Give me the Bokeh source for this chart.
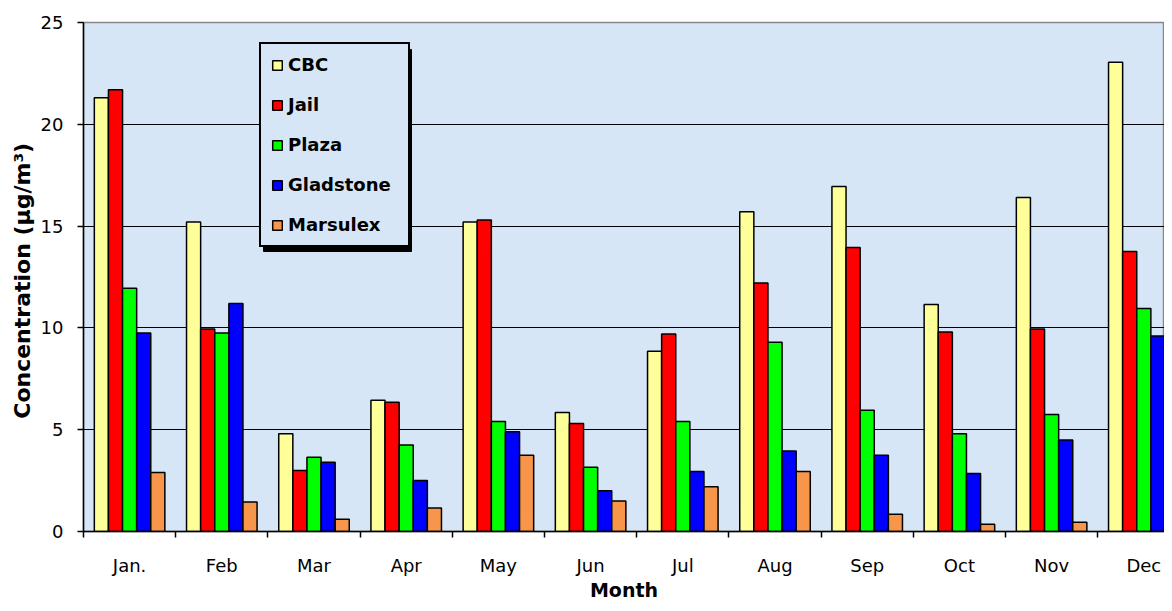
from bokeh.plotting import figure
from bokeh.models import Range1d, FixedTicker, Legend, LegendItem, ColumnDataSource
from bokeh.embed import file_html
from bokeh.resources import INLINE

months = ["Jan.", "Feb", "Mar", "Apr", "May", "Jun", "Jul", "Aug", "Sep", "Oct", "Nov", "Dec"]
series_names = ["CBC", "Jail", "Plaza", "Gladstone", "Marsulex"]
cbc = [21.3, 15.2, 4.8, 6.45, 15.2, 5.85, 8.85, 15.7, 16.95, 11.15, 16.4, 23.05]
jail = [21.7, 9.95, 3.0, 6.35, 15.3, 5.3, 9.7, 12.2, 13.95, 9.8, 9.95, 13.75]
plaza = [11.95, 9.75, 3.65, 4.25, 5.4, 3.15, 5.4, 9.3, 5.95, 4.8, 5.75, 10.95]
gladstone = [9.75, 11.2, 3.4, 2.5, 4.9, 2.0, 2.95, 3.95, 3.75, 2.85, 4.5, 9.6]
marsulex = [2.9, 1.45, 0.6, 1.15, 3.75, 1.5, 2.2, 2.95, 0.85, 0.35, 0.45, 1.0]
colors = ["#FFFF99", "#FF0000", "#00FF00", "#0000FF", "#F7964A"]
y_ticks = [0, 5, 10, 15, 20, 25]
x_title = "Month"
y_title = "Concentration  (µg/m³)"

W, H = 1164, 603
LEFT, TOP, BOTTOM = 83, 22, 70
frame_w = W - LEFT
px_per_cat = 92.2
x_end = frame_w / px_per_cat
frame_h = H - TOP - 72
px_per_unit = frame_h / 25.0

p = figure(width=W, height=H, output_backend="svg", toolbar_location=None,
           x_range=Range1d(0, x_end), y_range=Range1d(0, 25),
           min_border_left=LEFT, min_border_right=0, min_border_top=TOP,
           min_border_bottom=BOTTOM)
p.background_fill_color = "#d7e6f6"
p.border_fill_color = "white"
p.outline_line_color = "#888888"
p.outline_line_width = 1.5

# legend shadow (drawn under legend)
LEG_X, LEG_Y = 176, 284  # legend bottom-left, px from frame bottom-left
LEG_W, LEG_H = 148, 202
sh = 4
p.quad(left=[(LEG_X + sh) / px_per_cat], right=[(LEG_X + LEG_W + sh) / px_per_cat],
       bottom=[(LEG_Y - sh) / px_per_unit], top=[(LEG_Y + LEG_H - sh) / px_per_unit],
       fill_color="black", line_color="black")

bw = 0.153
data = [cbc, jail, plaza, gladstone, marsulex]
items = []
for k, (name, vals, col) in enumerate(zip(series_names, data, colors)):
    xs = [i + 0.5 + (k - 2) * bw for i in range(len(months))]
    src = ColumnDataSource(dict(x=xs, top=vals))
    r = p.vbar(x="x", top="top", width=bw, bottom=0, source=src,
               fill_color=col, line_color="black", line_width=1.5)
    items.append(LegendItem(label=name, renderers=[r]))

legend = Legend(items=items, location=(LEG_X, LEG_Y))
legend.label_text_font = "DejaVu Sans"
legend.label_text_font_style = "bold"
legend.label_text_font_size = "18px"
legend.label_text_color = "black"
legend.glyph_width = 12
legend.glyph_height = 12
legend.label_height = 20
legend.label_width = 110
legend.label_standoff = 5
legend.spacing = 19
legend.padding = 10
legend.margin = 0
legend.border_line_color = "black"
legend.border_line_alpha = 1.0
legend.border_line_width = 2
legend.background_fill_color = "#d7e6f6"
legend.background_fill_alpha = 1.0
p.add_layout(legend, "center")

# y axis
p.yaxis.ticker = FixedTicker(ticks=y_ticks)
p.yaxis.axis_label = y_title
p.yaxis.axis_label_text_font = "DejaVu Sans"
p.yaxis.axis_label_text_font_style = "bold"
p.yaxis.axis_label_text_font_size = "22px"
p.yaxis.axis_label_text_color = "black"
p.yaxis.axis_label_standoff = 3
p.yaxis.major_label_text_font = "DejaVu Sans"
p.yaxis.major_label_text_font_size = "18px"
p.yaxis.major_label_text_color = "black"
p.yaxis.major_label_standoff = 14
p.yaxis.major_tick_out = 6
p.yaxis.major_tick_in = 0
p.yaxis.minor_tick_out = 0
p.yaxis.minor_tick_in = 0
p.yaxis.axis_line_color = "black"
p.yaxis.axis_line_width = 1.5
p.yaxis.major_tick_line_width = 1.5

# x axis
centers = [i + 0.5 for i in range(len(months))]
bounds = [float(i) for i in range(len(months) + 1)]
p.xaxis.ticker = FixedTicker(ticks=centers, minor_ticks=bounds)
p.xaxis.major_label_overrides = {c: m for c, m in zip(centers, months)}
p.xaxis.axis_label = x_title
p.xaxis.axis_label_text_font = "DejaVu Sans"
p.xaxis.axis_label_text_font_style = "bold"
p.xaxis.axis_label_text_font_size = "19px"
p.xaxis.axis_label_text_color = "black"
p.xaxis.axis_label_standoff = 0
p.xaxis.major_label_text_font = "DejaVu Sans"
p.xaxis.major_label_text_font_size = "18px"
p.xaxis.major_label_text_color = "black"
p.xaxis.major_label_standoff = 17
p.xaxis.major_tick_out = 0
p.xaxis.major_tick_in = 0
p.xaxis.minor_tick_out = 6
p.xaxis.minor_tick_in = 0
p.xaxis.minor_tick_line_width = 1.5
p.xaxis.minor_tick_line_color = "black"
p.xaxis.axis_line_color = "black"
p.xaxis.axis_line_width = 1.5

p.xgrid.grid_line_color = None
p.ygrid.ticker = FixedTicker(ticks=[5, 10, 15, 20])
p.ygrid.grid_line_color = "black"
p.ygrid.grid_line_width = 1.2

open("out.html", "w").write(file_html(p, INLINE))
